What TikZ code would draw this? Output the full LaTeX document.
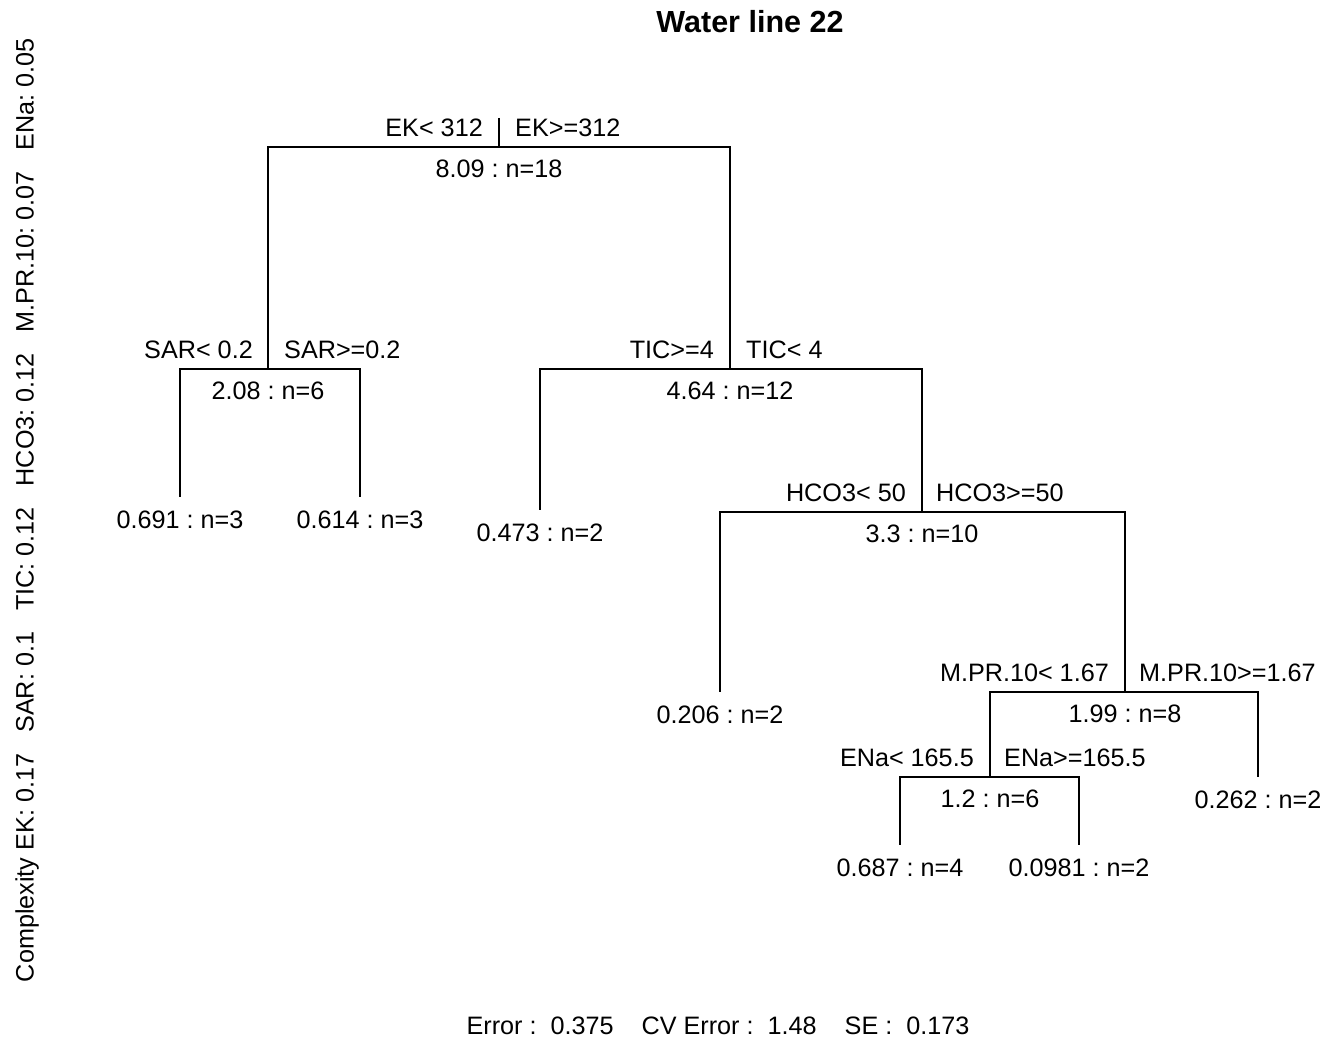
\documentclass[tikz,border=0pt]{standalone}
\usepackage{fontspec}
\setmainfont{Liberation Sans}
\frenchspacing
\usetikzlibrary{positioning}
\tikzset{
  txt/.style={inner sep=0pt, font=\fontsize{25.2}{29}\selectfont},
  lft/.style={txt},
  rgt/.style={txt},
  val/.style={txt},
  edge/.style={line width=1.4pt}
}
\begin{document}
\begin{tikzpicture}[x=1pt,y=-1pt]
\useasboundingbox (0,0) rectangle (1325,1040);

% split points
\coordinate (top) at (499,118);
\coordinate (ek)  at (499,147);
\coordinate (sar) at (268,369);
\coordinate (tic) at (730,369);
\coordinate (hco) at (922,512);
\coordinate (mpr) at (1125,692);
\coordinate (ena) at (990,777);
% leaf ends
\coordinate (l1) at (180,497);
\coordinate (l2) at (360,497);
\coordinate (l3) at (540,510);
\coordinate (l4) at (720,692);
\coordinate (l5) at (1258,777);
\coordinate (l6) at (900,845);
\coordinate (l7) at (1079,845);

% branches
\draw[edge] (top) -- (ek);
\draw[edge] (ek) -| (sar);
\draw[edge] (ek) -| (tic);
\draw[edge] (sar) -| (l1);
\draw[edge] (sar) -| (l2);
\draw[edge] (tic) -| (l3);
\draw[edge] (tic) -| (hco);
\draw[edge] (hco) -| (l4);
\draw[edge] (hco) -| (mpr);
\draw[edge] (mpr) -| (ena);
\draw[edge] (mpr) -| (l5);
\draw[edge] (ena) -| (l6);
\draw[edge] (ena) -| (l7);

% split labels
\node[lft, above left=10pt and 16pt of ek]  (ekL)  {EK< 312};
\node[rgt, above right=10pt and 16pt of ek] (ekR)  {EK>=312};
\node[lft, above left=10pt and 15pt of sar]  (sarL) {SAR< 0.2};
\node[rgt, above right=10pt and 16pt of sar] (sarR) {SAR>=0.2};
\node[lft, above left=10pt and 16pt of tic]  (ticL) {TIC>=4};
\node[rgt, above right=10pt and 16pt of tic] (ticR) {TIC< 4};
\node[lft, above left=10pt and 16pt of hco]  (hcoL) {HCO3< 50};
\node[rgt, above right=10pt and 14pt of hco] (hcoR) {HCO3>=50};
\node[lft, above left=10pt and 16pt of mpr]  (mprL) {M.PR.10< 1.67};
\node[rgt, above right=10pt and 14pt of mpr] (mprR) {M.PR.10>=1.67};
\node[lft, above left=10pt and 16pt of ena]  (enaL) {ENa< 165.5};
\node[rgt, above right=10pt and 14pt of ena] (enaR) {ENa>=165.5};

% node values
\node[val, below=13pt of ek]  (ekV)  {8.09 : n=18};
\node[val, below=13pt of sar] (sarV) {2.08 : n=6};
\node[val, below=13pt of tic] (ticV) {4.64 : n=12};
\node[val, below=13pt of hco] (hcoV) {3.3 : n=10};
\node[val, below=13pt of mpr] (mprV) {1.99 : n=8};
\node[val, below=13pt of ena] (enaV) {1.2 : n=6};

% leaves
\node[val, below=14pt of l1] (v1) {0.691 : n=3};
\node[val, below=14pt of l2] (v2) {0.614 : n=3};
\node[val, below=14pt of l3] (v3) {0.473 : n=2};
\node[val, below=14pt of l4] (v4) {0.206 : n=2};
\node[val, below=14pt of l5] (v5) {0.262 : n=2};
\node[val, below=14pt of l6] (v6) {0.687 : n=4};
\node[val, below=14pt of l7] (v7) {0.0981 : n=2};

% title and margins
\node[font=\bfseries\fontsize{30.5}{34}\selectfont] (title) at (750,22) {Water line 22};
\node[txt] (err) at (718,1026) {Error :\ \ 0.375\ \ \ \ CV Error :\ \ 1.48\ \ \ \ SE :\ \ 0.173};
\node[txt, rotate=90] (cplx) at (27,510) {Complexity EK: 0.17\ \ \ SAR: 0.1\ \ \ TIC: 0.12\ \ \ HCO3: 0.12\ \ \ M.PR.10: 0.07\ \ \ ENa: 0.05};
\end{tikzpicture}
\end{document}
